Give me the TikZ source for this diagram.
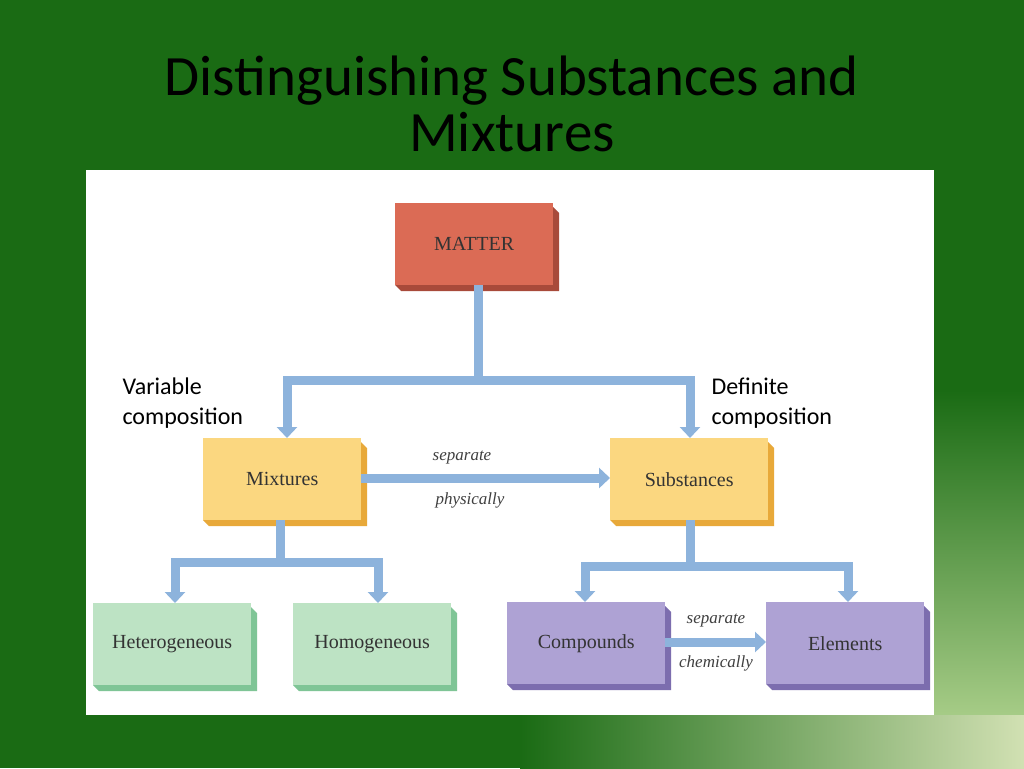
\documentclass[tikz,border=0pt]{standalone}
\usepackage{fontspec}
\setmainfont{Liberation Serif}
\newfontfamily\carl{Carlito}
\usetikzlibrary{arrows.meta}
\definecolor{bggreen}{HTML}{1A6B14}
\definecolor{pipe}{HTML}{8DB3DC}
\definecolor{redf}{HTML}{DB6B55}\definecolor{reds}{HTML}{A84A3A}
\definecolor{yelf}{HTML}{FBD780}\definecolor{yels}{HTML}{E8A93A}
\definecolor{grnf}{HTML}{BDE3C4}\definecolor{grns}{HTML}{7FC596}
\definecolor{purf}{HTML}{AEA2D4}\definecolor{purs}{HTML}{7C6DAE}
\tikzset{
 box/.style={draw=none,minimum width=158pt,minimum height=82pt,font=\fontsize{20}{22}\selectfont,text=black!80},
 pipeln/.style={line width=9pt,pipe},
 pipear/.style={line width=9pt,pipe,-{Triangle[width=20pt,length=11pt]}},
 lab/.style={font=\itshape\fontsize{17}{19}\selectfont,text=black!75},
 side/.style={font=\carl\fontsize{24}{30}\selectfont,align=left,anchor=north west}
}
\newcommand{\tdbox}[6]{% name, x, y, face, side, text
 \fill[#5] (#2+158,#3+4) -- (#2+164,#3+10) -- (#2+164,#3+88) -- (#2+6,#3+88) -- (#2,#3+82) -- (#2+158,#3+82) -- cycle;
 \node[box,fill=#4,anchor=north west] (#1) at (#2,#3) {#6};
}
\begin{document}
\begin{tikzpicture}[x=1pt,y=-1pt]
\useasboundingbox (0,0) rectangle (1024,768);
\fill[bggreen] (0,0) rectangle (1024,768);
\shade[top color=bggreen,bottom color=green!30!olive!40!white] (934,390) rectangle (1024,768);
\shade[left color=bggreen,right color=green!20!olive!30!white] (520,715) rectangle (1024,768);
\node[font=\carl\fontsize{57}{56}\selectfont,align=center] (title) at (512,104) {Distinguishing Substances and\\Mixtures};
\fill[white] (86,170) rectangle (934,715);
\tdbox{matter}{395}{203}{redf}{reds}{MATTER}
\tdbox{mix}{203}{438}{yelf}{yels}{Mixtures}
\tdbox{sub}{610}{438}{yelf}{yels}{Substances}
\tdbox{het}{93}{603}{grnf}{grns}{Heterogeneous}
\tdbox{hom}{293}{603}{grnf}{grns}{Homogeneous}
\tdbox{com}{507}{602}{purf}{purs}{Compounds}
\tdbox{ele}{766}{602}{purf}{purs}{Elements}
% pipes
\coordinate (j1) at (478,380);
\draw[pipeln] (matter.south -| j1) -- (j1);
\draw[pipear] (j1) -| (mix.north -| 287,0);
\draw[pipear] (j1) -| (sub.north -| 690,0);
\coordinate (j2) at (280,562);
\draw[pipeln] (mix.south -| j2) -- (j2);
\draw[pipear] (j2) -| (het.north -| 175,0);
\draw[pipear] (j2) -| (hom.north -| 378,0);
\coordinate (j3) at (690,566);
\draw[pipeln] (sub.south -| j3) -- (j3);
\draw[pipear] (j3) -| (com.north -| 585,0);
\draw[pipear] (j3) -| (ele.north -| 848,0);
\draw[pipear] (mix.east |- 0,478) -- (sub.west |- 0,478);
\draw[pipear] (com.east |- 0,642) -- (ele.west |- 0,642);
\node[lab] (sp) at (462,458) {separate};
\node[lab] (ph) at (470,500) {physically};
\node[lab] (sc) at (716,621) {separate};
\node[lab] (ch) at (716,663) {chemically};
\node[side] (vc) at (119,374) {Variable\\composition};
\node[side] (dc) at (708,374) {Definite\\composition};
\end{tikzpicture}
\end{document}
